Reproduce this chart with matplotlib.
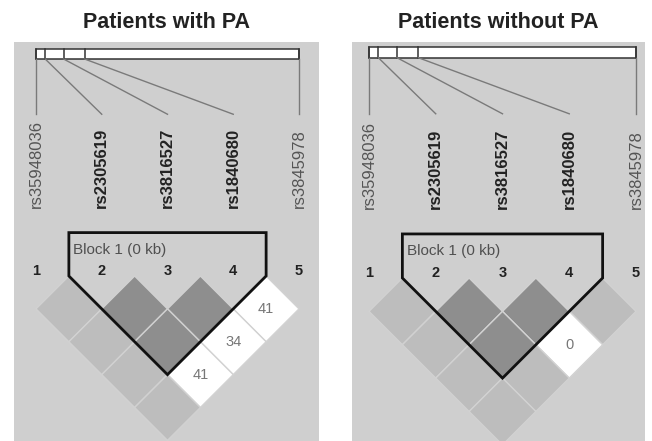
import matplotlib
matplotlib.use('Agg')
import matplotlib.pyplot as plt
from matplotlib.patches import Polygon, Rectangle

plt.rcParams['font.family'] = ['Liberation Sans', 'DejaVu Sans']

# ---- data -------------------------------------------------------------
titles = ['Patients with PA', 'Patients without PA']
markers = ['rs35948036', 'rs2305619', 'rs3816527', 'rs1840680', 'rs3845978']
marker_bold = [False, True, True, True, False]
# relative physical position of each SNP along the region bar (0..1)
marker_pos = [0.0, 0.035, 0.105, 0.185, 1.0]

# marker pairs, ordered row by row of the LD triangle
pairs = [(0, 1), (1, 2), (2, 3), (3, 4),
         (0, 2), (1, 3), (2, 4),
         (0, 3), (1, 4),
         (0, 4)]
with_pa_level = ['low', 'high', 'high', 'none',
                 'low', 'high', 'none',
                 'low', 'none',
                 'low']
with_pa_text = ['', '', '', '41',
                '', '', '34',
                '', '41',
                '']
without_pa_level = ['low', 'high', 'high', 'low',
                    'low', 'high', 'none',
                    'low', 'low',
                    'low']
without_pa_text = ['', '', '', '',
                   '', '', '0',
                   '', '',
                   '']
block_markers = (1, 3)
block_label = 'Block 1 (0 kb)'

# ---- style ------------------------------------------------------------
BG = '#cfcfcf'
shade = {'low': '#bdbdbd', 'high': '#8e8e8e', 'none': '#ffffff'}

W, H = 652, 441
fig = plt.figure(figsize=(W / 100, H / 100), dpi=100)

# panel pixel rectangles: (left, right, top, bottom, first marker x, spacing, diamond top y)
panels = [
    (14, 319, 42, 441, 36, 65.75, 276),
    (352, 645, 42, 441, 369, 66.75, 278),
]
levels = [with_pa_level, without_pa_level]
texts = [with_pa_text, without_pa_text]


def draw_panel(ax, level, text):
    n = len(markers)
    # region bar with SNP ticks
    bar_top, bar_bot = -3.46, -3.30
    ax.add_patch(Rectangle((0, bar_top), n - 1, bar_bot - bar_top,
                           facecolor='white', edgecolor='#333333', lw=1.1))
    for i, p in enumerate(marker_pos):
        xp = p * (n - 1)
        ax.plot([xp, xp], [bar_top, bar_bot], color='#333333', lw=1.1)
        ax.plot([xp, i], [bar_bot, -2.46], color='#7a7a7a', lw=1.0)

    # SNP names
    for i, (name, b) in enumerate(zip(markers, marker_bold)):
        ax.text(i, -1.03, name, rotation=90, rotation_mode='anchor',
                ha='left', va='center',
                fontsize=12 if b else 12,
                fontweight='bold' if b else 'normal',
                color='#222222' if b else '#555555')
        ax.text(i, -0.07, str(i + 1), ha='center', va='center',
                fontsize=10.5, fontweight='bold', color='#222222')

    # LD diamonds
    for (i, j), lv, tx in zip(pairs, level, text):
        cx, cy = (i + j) / 2, (j - i) / 2
        ax.add_patch(Polygon([(cx, cy - 0.5), (cx + 0.5, cy), (cx, cy + 0.5), (cx - 0.5, cy)],
                             closed=True, facecolor=shade[lv], edgecolor='#d2d2d2', lw=1.0))
        if tx:
            ax.text(cx, cy, tx, ha='center', va='center', fontsize=10.5, color='#777777')

    # haplotype block outline
    b0, b1 = block_markers
    outline = [(b0 - 0.5, 0), (b0 - 0.5, -0.66), (b1 + 0.5, -0.66), (b1 + 0.5, 0),
               ((b0 + b1) / 2, (b1 - b0) / 2 + 0.5)]
    ax.add_patch(Polygon(outline, closed=True, fill=False, edgecolor='#111111', lw=2.0,
                         joinstyle='miter'))
    ax.text(b0 - 0.43, -0.40, block_label, ha='left', va='center', fontsize=11, color='#505050')


for k, (l, r, t, b, x0, s, ty) in enumerate(panels):
    ax = fig.add_axes([l / W, 1 - b / H, (r - l) / W, (b - t) / H])
    ax.set_facecolor(BG)
    ax.set_xlim((l - x0) / s, (r - x0) / s)
    ax.set_ylim((b - ty) / s, (t - ty) / s)
    for sp in ax.spines.values():
        sp.set_visible(False)
    ax.set_xticks([])
    ax.set_yticks([])
    draw_panel(ax, levels[k], texts[k])
    fig.text((l + r) / 2 / W, 1 - 22 / H, titles[k], ha='center', va='center',
             fontsize=15.5, fontweight='bold', color='#222222')

fig.savefig('out.png', dpi=100, facecolor='white')
